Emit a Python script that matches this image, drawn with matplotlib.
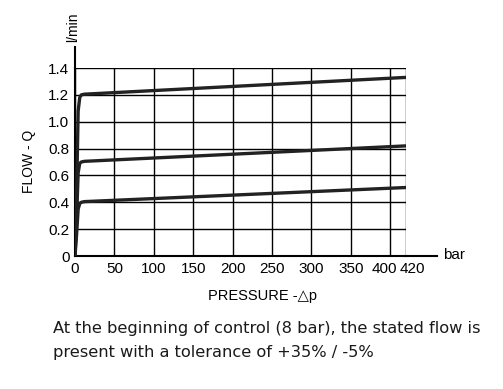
import matplotlib.pyplot as plt
from matplotlib import transforms

tick_font = ["Liberation Sans", "DejaVu Sans"]

# pressure (bar) and flow (l/min) for the three flow settings
pressure = [0, 2, 4, 6, 8, 12, 420]
flow_high = [0, 0.45, 1.08, 1.18, 1.20, 1.205, 1.33]
flow_mid = [0, 0.28, 0.62, 0.69, 0.70, 0.705, 0.82]
flow_low = [0, 0.16, 0.35, 0.39, 0.40, 0.405, 0.51]

x_ticks = [0, 50, 100, 150, 200, 250, 300, 350, 400, 420]
y_ticks = [0, 0.2, 0.4, 0.6, 0.8, 1.0, 1.2, 1.4]
y_labels = ["0", "0.2", "0.4", "0.6", "0.8", "1.0", "1.2", "1.4"]

fig = plt.figure(figsize=(5.03, 3.89), dpi=100)
ax = fig.add_axes([75 / 503, 1 - 256 / 389, 331 / 503, 188 / 389])

for q in (flow_high, flow_mid, flow_low):
    ax.plot(pressure, q, color="#222222", lw=2.4, solid_joinstyle="round", zorder=3)

ax.set_xlim(0, 420)
ax.set_ylim(0, 1.4)
ax.set_xticks(x_ticks)
ax.set_yticks(y_ticks)
ax.set_yticklabels(y_labels)
ax.grid(True, color="black", lw=1.0)
ax.tick_params(length=0, pad=4, labelsize=11)
for lab in ax.get_xticklabels() + ax.get_yticklabels():
    lab.set_fontfamily(tick_font)

# 400 and 420 sit close together: nudge them apart
xl = ax.get_xticklabels()
xl[-2].set_transform(xl[-2].get_transform() + transforms.ScaledTranslation(-6 / 100, 0, fig.dpi_scale_trans))
xl[-1].set_transform(xl[-1].get_transform() + transforms.ScaledTranslation(6 / 100, 0, fig.dpi_scale_trans))

for s in ("top", "right"):
    ax.spines[s].set_visible(False)
ax.spines["left"].set_linewidth(1.5)
ax.spines["bottom"].set_linewidth(1.5)

# axis extensions beyond the grid
ax.plot([420, 459], [0, 0], color="black", lw=1.5, clip_on=False)
ax.plot([0, 0], [1.4, 1.56], color="black", lw=1.5, clip_on=False)

fig.text(443 / 503, 1 - 255 / 389, "bar", fontsize=11, family=tick_font, va="center", ha="left")
fig.text(73 / 503, 1 - 27 / 389, "l/min", fontsize=10, family=tick_font, rotation=90, va="center", ha="center")
fig.text(29 / 503, 1 - 161 / 389, "FLOW - Q", fontsize=10, family=tick_font, rotation=90, va="center", ha="center")
fig.text(262 / 503, 1 - 296 / 389, "PRESSURE -\u25b3p", fontsize=10.5, family=tick_font, va="center", ha="center")

fig.text(53 / 503, 1 - 328 / 389, "At the beginning of control (8 bar), the stated flow is",
         fontsize=11.7, family="DejaVu Sans", va="center", ha="left", color="#1a1a1a")
fig.text(53 / 503, 1 - 353 / 389, "present with a tolerance of +35% / -5%",
         fontsize=11.7, family="DejaVu Sans", va="center", ha="left", color="#1a1a1a")

fig.savefig("out.png", dpi=100)
